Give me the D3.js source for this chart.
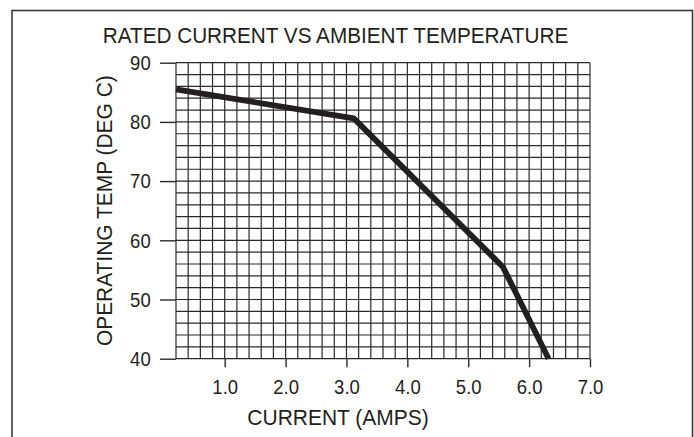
<!DOCTYPE html>
<html>
<head>
<meta charset="utf-8">
<script src="https://cdn.jsdelivr.net/npm/d3@7"></script>
<style>
  html, body { margin: 0; padding: 0; background: #fff; }
  svg { display: block; font-family: "Liberation Sans", Arial, Helvetica, sans-serif; }
</style>
</head>
<body>
<svg id="chart" width="694" height="437"></svg>
<script>
// ---- data ----
const title = "RATED CURRENT VS AMBIENT TEMPERATURE";
const xLabel = "CURRENT (AMPS)";
const yLabel = "OPERATING TEMP (DEG C)";
const currentAmps = [0.2, 3.12, 5.57, 6.32];
const tempDegC = [85.5, 80.6, 55.5, 40];
const xTicks = [1, 2, 3, 4, 5, 6, 7];
const yTicks = [40, 50, 60, 70, 80, 90];
const xDomain = [0.2, 7.0];
const yDomain = [40, 90];

// ---- layout ----
const W = 694, H = 437;
const plot = { left: 176, right: 590, top: 62.7, bottom: 358.7 };
const svg = d3.select("#chart");
const ink = "#231f20";

const x = d3.scaleLinear().domain(xDomain).range([plot.left, plot.right]);
const y = d3.scaleLinear().domain(yDomain).range([plot.bottom, plot.top]);

// outer frame
svg.append("rect")
  .attr("x", 12).attr("y", 10.5)
  .attr("width", 680.5).attr("height", H + 20)
  .attr("fill", "none").attr("stroke", "#3a3a3a").attr("stroke-width", 1.6);

// helper: horizontally condensed text (Helvetica-like proportions)
function label(tx, ty, rot, size, sx, str) {
  svg.append("text")
    .attr("transform", `translate(${tx},${ty}) rotate(${rot}) scale(${sx},1)`)
    .attr("text-anchor", "middle")
    .attr("font-size", size).attr("fill", ink)
    .text(str);
}

// title
label(335.5, 42.7, 0, 22.3, 0.93, title);

// grid
const gridColor = "#2a2a2a";
const vLines = d3.range(0, 35).map(i => +(xDomain[0] + i * 0.2).toFixed(2));
const hLines = d3.range(0, 26).map(i => yDomain[0] + i * 2);
const grid = svg.append("g");
grid.selectAll("line.v").data(vLines).join("line")
  .attr("x1", d => x(d)).attr("x2", d => x(d))
  .attr("y1", plot.top).attr("y2", plot.bottom)
  .attr("stroke", gridColor).attr("stroke-width", 1.2);
grid.selectAll("line.h").data(hLines).join("line")
  .attr("y1", d => y(d)).attr("y2", d => y(d))
  .attr("x1", plot.left).attr("x2", plot.right)
  .attr("stroke", gridColor).attr("stroke-width", 1.2);

// axes
const tickFont = 19.5, tickSx = 0.95;
const xAxis = d3.axisBottom(x).tickValues(xTicks).tickSize(8.5).tickPadding(0)
  .tickFormat(d3.format(".1f"));
const gx = svg.append("g").attr("transform", `translate(0,${plot.bottom})`).call(xAxis);
gx.select(".domain").remove();
gx.selectAll(".tick line").attr("stroke", gridColor).attr("stroke-width", 1.4);
gx.selectAll(".tick text")
  .attr("font-size", tickFont).attr("fill", ink)
  .attr("font-family", "Liberation Sans, Arial, sans-serif")
  .attr("y", 0).attr("dy", null)
  .attr("transform", `translate(0,${394.3 - plot.bottom}) scale(${tickSx},1)`);

const yAxis = d3.axisLeft(y).tickValues(yTicks).tickSize(16).tickPadding(0);
const gy = svg.append("g").attr("transform", `translate(${plot.left},0)`).call(yAxis);
gy.select(".domain").remove();
gy.selectAll(".tick line").attr("stroke", gridColor).attr("stroke-width", 1.4);
gy.selectAll(".tick text")
  .attr("font-size", tickFont).attr("fill", ink)
  .attr("font-family", "Liberation Sans, Arial, sans-serif")
  .attr("x", 0).attr("dy", "0.35em")
  .attr("transform", `translate(${150.7 - plot.left},0) scale(${tickSx},1)`);

// axis labels
label(338, 425, 0, 22.8, 0.92, xLabel);
label(112, (plot.top + plot.bottom) / 2, -90, 22.5, 0.93, yLabel);

// data line
const pts = currentAmps.map((c, i) => [c, tempDegC[i]]);
svg.append("path")
  .datum(pts)
  .attr("fill", "none")
  .attr("stroke", ink)
  .attr("stroke-width", 5.8)
  .attr("stroke-linejoin", "round")
  .attr("d", d3.line().x(d => x(d[0])).y(d => y(d[1])));
</script>
</body>
</html>
